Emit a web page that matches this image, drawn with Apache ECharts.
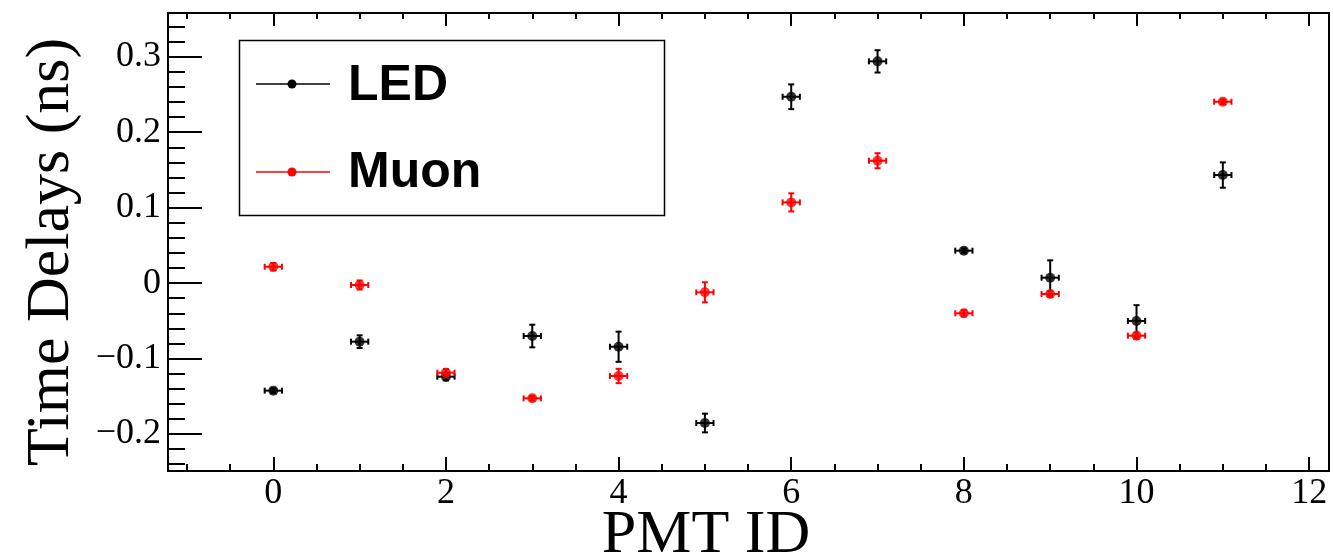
<!DOCTYPE html>
<html>
<head>
<meta charset="utf-8">
<title>Time Delays per PMT</title>
<script src="https://cdn.jsdelivr.net/npm/echarts@6.0.0/dist/echarts.min.js"></script>
<style>
  html, body { margin: 0; padding: 0; background: #fff; }
  #chart { width: 1333px; height: 560px; }
</style>
</head>
<body>
<div id="chart"></div>
<script>
// PMT IDs along x
const pmtIds = [0, 1, 2, 3, 4, 5, 6, 7, 8, 9, 10, 11];
// LED time delays (ns) and their errors
const ledDelay = [-0.1425, -0.0776, -0.124, -0.0701, -0.0843, -0.1854, 0.247, 0.2939, 0.043, 0.0072, -0.0502, 0.1432];
const ledErr   = [0.003, 0.0084, 0.005, 0.015, 0.02, 0.0124, 0.0164, 0.0148, 0.003, 0.023, 0.021, 0.0168];
// Muon time delays (ns) and their errors
const muonDelay = [0.0217, -0.0025, -0.1187, -0.1527, -0.1231, -0.0122, 0.107, 0.1622, -0.040, -0.0144, -0.0697, 0.2404];
const muonErr   = [0.005, 0.006, 0.005, 0.003, 0.0095, 0.0133, 0.012, 0.01, 0.004, 0.004, 0.004, 0.003];
const pmtErr = 0.1; // horizontal error half-width

// axis ticks
const xMajor = [0, 2, 4, 6, 8, 10, 12];
const yMajor = [-0.2, -0.1, 0, 0.1, 0.2, 0.3];
const xRange = [-1.22, 12.23];
const yRange = [-0.249, 0.358];

function steps(from, to, step) {
    const out = [];
    for (let v = from; v <= to + 1e-9; v += step) out.push(Math.round(v * 1000) / 1000);
    return out;
}
const xMinor = steps(-1, 12, 0.5);
const yMinor = steps(-0.24, 0.34, 0.02);

const serif = 'Liberation Serif';
const sans = 'Liberation Sans';

function errRender(color) {
    return function (params, api) {
        const x = api.value(0), y = api.value(1), e = api.value(2);
        const c = api.coord([x, y]);
        const hi = api.coord([x, y + e]);
        const lo = api.coord([x, y - e]);
        const l = api.coord([x - pmtErr, y]);
        const r = api.coord([x + pmtErr, y]);
        const cap = 3;
        const st = { stroke: color, lineWidth: 2 };
        const seg = (x1, y1, x2, y2) => ({ type: 'line', shape: { x1, y1, x2, y2 }, style: st });
        return {
            type: 'group',
            children: [
                seg(c[0], hi[1], c[0], lo[1]),
                seg(c[0] - cap, hi[1], c[0] + cap, hi[1]),
                seg(c[0] - cap, lo[1], c[0] + cap, lo[1]),
                seg(l[0], c[1], r[0], c[1]),
                seg(l[0], c[1] - cap, l[0], c[1] + cap),
                seg(r[0], c[1] - cap, r[0], c[1] + cap)
            ]
        };
    };
}

const ledPts = pmtIds.map((p, i) => [p, ledDelay[i]]);
const muonPts = pmtIds.map((p, i) => [p, muonDelay[i]]);
const ledErrPts = pmtIds.map((p, i) => [p, ledDelay[i], ledErr[i]]);
const muonErrPts = pmtIds.map((p, i) => [p, muonDelay[i], muonErr[i]]);

function tickAxis(pos, values, len, labels) {
    return {
        type: 'value', position: pos, min: xRange[0], max: xRange[1],
        axisLine: { show: pos === 'bottom', onZero: false, lineStyle: { color: '#000', width: 2 } },
        axisTick: { show: true, inside: true, length: len, customValues: values, lineStyle: { color: '#000', width: 2 } },
        axisLabel: labels ? {
            show: true, customValues: xMajor, margin: 5, color: '#000',
            fontFamily: serif, fontSize: 36
        } : { show: false },
        splitLine: { show: false }
    };
}

function yTickAxis(values, len, labels) {
    return {
        type: 'value', position: 'left', min: yRange[0], max: yRange[1],
        axisLine: { show: labels, onZero: false, lineStyle: { color: '#000', width: 2 } },
        axisTick: { show: true, inside: true, length: len, customValues: values, lineStyle: { color: '#000', width: 2 } },
        axisLabel: labels ? {
            show: true, customValues: yMajor, margin: 7, color: '#000',
            fontFamily: serif, fontSize: 36,
            formatter: v => {
                const r = Math.round(v * 10) / 10;
                return r < 0 ? '\u2212' + Math.abs(r) : String(r);
            }
        } : { show: false },
        splitLine: { show: false }
    };
}

const chart = echarts.init(document.getElementById('chart'), null, { renderer: 'canvas' });
chart.setOption({
    animation: false,
    backgroundColor: '#fff',
    grid: { left: 168, right: 4, top: 13, bottom: 89, show: true, borderColor: '#000', borderWidth: 2, backgroundColor: 'transparent' },
    xAxis: [
        tickAxis('bottom', xMajor, 14, true),
        tickAxis('bottom', xMinor, 7, false),
        tickAxis('top', xMajor, 13, false),
        tickAxis('top', xMinor, 6, false)
    ],
    yAxis: [
        yTickAxis(yMajor, 34, true),
        yTickAxis(yMinor, 17, false)
    ],
    series: [
        { name: 'LED err', type: 'custom', renderItem: errRender('#000'), data: ledErrPts, z: 2, encode: { x: 0, y: 1 } },
        { name: 'LED', type: 'scatter', data: ledPts, symbol: 'circle', symbolSize: 10, itemStyle: { color: '#000' }, z: 3 },
        { name: 'Muon err', type: 'custom', renderItem: errRender('#ff0000'), data: muonErrPts, z: 4, encode: { x: 0, y: 1 } },
        { name: 'Muon', type: 'scatter', data: muonPts, symbol: 'circle', symbolSize: 10, itemStyle: { color: '#ff0000' }, z: 5 }
    ],
    graphic: [
        { type: 'text', x: 706, y: 536, style: { text: 'PMT ID', font: '62px "' + serif + '"', fill: '#000', align: 'center', verticalAlign: 'middle' } },
        { type: 'text', x: 52, y: 252, rotation: Math.PI / 2, style: { text: 'Time Delays (ns)', font: '62px "' + serif + '"', fill: '#000', align: 'center', verticalAlign: 'middle' } },
        { type: 'rect', shape: { x: 239.5, y: 40.5, width: 425, height: 175 }, style: { fill: '#fff', stroke: '#000', lineWidth: 1.5 }, z: 10 },
        { type: 'line', shape: { x1: 256, y1: 84, x2: 330, y2: 84 }, style: { stroke: '#000', lineWidth: 1.5 }, z: 11 },
        { type: 'circle', shape: { cx: 292, cy: 84, r: 4.5 }, style: { fill: '#000' }, z: 11 },
        { type: 'text', x: 348, y: 86, style: { text: 'LED', font: 'bold 50px "' + sans + '"', fill: '#000', verticalAlign: 'middle' }, z: 11 },
        { type: 'line', shape: { x1: 256, y1: 172, x2: 330, y2: 172 }, style: { stroke: '#ff0000', lineWidth: 1.5 }, z: 11 },
        { type: 'circle', shape: { cx: 292, cy: 172, r: 4.5 }, style: { fill: '#ff0000' }, z: 11 },
        { type: 'text', x: 348, y: 173, style: { text: 'Muon', font: 'bold 50px "' + sans + '"', fill: '#000', verticalAlign: 'middle' }, z: 11 }
    ]
});
</script>
</body>
</html>
